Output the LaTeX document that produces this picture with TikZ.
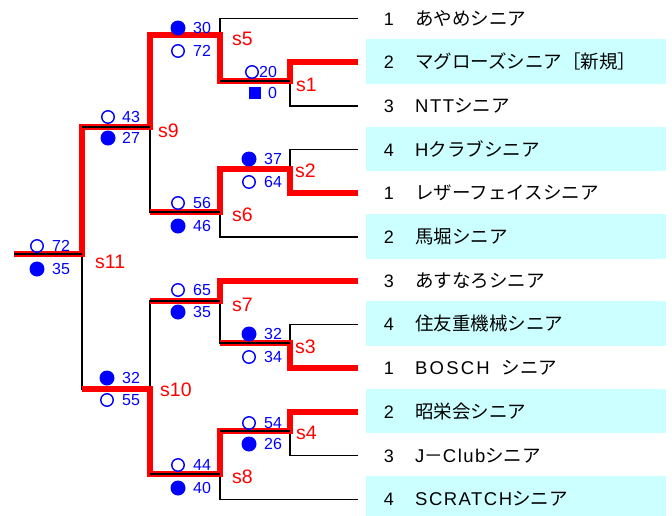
\documentclass[tikz,border=0pt]{standalone}
\usepackage{fontspec}
\setmainfont{Liberation Sans}
\newfontfamily\jp{Noto Sans CJK JP}
\newfontfamily\lw[LetterSpace=8]{Liberation Sans}
\newfontfamily\lww[LetterSpace=12]{Liberation Sans}
\definecolor{bandcol}{HTML}{CCFFFF}
\begin{document}
\begin{tikzpicture}[x=1pt,y=-1pt,
  blk/.style={black, line width=1.3pt},
  redpath/.style={red, line width=6pt, line join=miter},
  win/.style={circle, draw=blue, line width=1.4pt, minimum size=12.5pt, inner sep=0pt},
  loss/.style={circle, fill=blue, minimum size=15pt, inner sep=0pt},
  byesq/.style={rectangle, fill=blue, minimum size=12.5pt, inner sep=0pt},
  score/.style={blue, inner sep=0pt, anchor=base west, font=\fontsize{16}{17}\selectfont},
  mlab/.style={red, inner sep=0pt, anchor=base west, font=\fontsize{19.5}{21}\selectfont},
  teamno/.style={inner sep=0pt, anchor=base, font=\fontsize{18}{20}\selectfont},
  teamname/.style={inner sep=0pt, anchor=base west, font=\fontsize{18.5}{20}\selectfont},
  band/.style={fill=bandcol, draw=none}]
\useasboundingbox (0,0) rectangle (672,515);
\fill[white] (0,0) rectangle (672,515);

% bands
\foreach \r in {2,4,6,8,10,12}{
  \pgfmathsetmacro{\yy}{18.5+(\r-1)*43.7}
  \fill[band] (366,\yy-23) rectangle (666,\yy+21.5);
}

% team end coordinates
\foreach \r in {1,...,12}{
  \coordinate (T\r) at (358,{18.5+(\r-1)*43.7});
}
% junctions
\coordinate (J1) at (290,81);
\coordinate (J2) at (290,169);
\coordinate (J3) at (290,343);
\coordinate (J4) at (290,431);
\coordinate (J5) at (220,35);
\coordinate (J6) at (220,212);
\coordinate (J7) at (220,301);
\coordinate (J8) at (220,474);
\coordinate (J9) at (150,127);
\coordinate (J10) at (150,389);
\coordinate (J11) at (82,254);
\coordinate (L) at (14,254);

% black bracket
\draw[blk] (T2) -| (J1) (T3) -| (J1) (T4) -| (J2) (T5) -| (J2)
  (T8) -| (J3) (T9) -| (J3) (T10) -| (J4) (T11) -| (J4)
  (T1) -| (J5) (J1) -| (J5) (J2) -| (J6) (T6) -| (J6)
  (T7) -| (J7) (J3) -| (J7) (J4) -| (J8) (T12) -| (J8)
  (J5) -| (J9) (J6) -| (J9) (J7) -| (J10) (J8) -| (J10)
  (J9) -| (J11) (J10) -| (J11) (J11) -- (L);

% red winner paths
\draw[redpath] (T2) -| (J1) -| (J5) -| (J9) -| (J11) -- (L);
\draw[redpath] (T5) -| (J2) -| (J6) -- (J9 |- J6);
\draw[redpath] (T7) -| (J7) -- (J10 |- J7);
\draw[redpath] (T9) -| (J3) -- (J7 |- J3);
\draw[redpath] (T10) -| (J4) -| (J8) -| (J10) -- (J11 |- J10);

% black lines visible on top of red
\draw[blk] (J1) -- (J5 |- J1) (J3) -- (J7 |- J3) (J4) -- (J8 |- J4)
  (J6) -- (J9 |- J6) (J7) -- (J10 |- J7) (J8) -- (J10 |- J8)
  (J9) -- (J11 |- J9) (J11) -- (L);

% team numbers and names
\foreach \r/\n in {1/1,2/2,3/3,4/4,5/1,6/2,7/3,8/4,9/1,10/2,11/3,12/4}{
  \node[teamno] (no\r) at (389,{18.5+(\r-1)*43.7+6.5}) {\n};
}
\node[teamname] (nm1) at (415,{18.5+0*43.7+6.5}) {\jp あやめシニア};
\node[teamname] (nm2) at (415,{18.5+1*43.7+6.5}) {\jp マグローズシニア［新規］};
\node[teamname] (nm3) at (415,{18.5+2*43.7+6.5}) {{\lw NTT}{\jp シニア}};
\node[teamname] (nm4) at (415,{18.5+3*43.7+6.5}) {{\lw H}{\jp クラブシニア}};
\node[teamname] (nm5) at (415,{18.5+4*43.7+6.5}) {\jp レザーフェイスシニア};
\node[teamname] (nm6) at (415,{18.5+5*43.7+6.5}) {\jp 馬堀シニア};
\node[teamname] (nm7) at (415,{18.5+6*43.7+6.5}) {\jp あすなろシニア};
\node[teamname] (nm8) at (415,{18.5+7*43.7+6.5}) {\jp 住友重機械シニア};
\node[teamname] (nm9) at (415,{18.5+8*43.7+6.5}) {{\lww BOSCH}\hspace{12pt}{\jp シニア}};
\node[teamname] (nm10) at (415,{18.5+9*43.7+6.5}) {\jp 昭栄会シニア};
\node[teamname] (nm11) at (415,{18.5+10*43.7+6.5}) {{\lw J}{\jp －}{\lw Club}{\jp シニア}};
\node[teamname] (nm12) at (415,{18.5+11*43.7+6.5}) {{\lw SCRATCH}{\jp シニア}};

% scores
% s1
\node[win] (s1a) at (252,72) {};   \node[score] (s1an) at (259,77.8) {20};
\node[byesq] (s1b) at (255,93) {}; \node[score] (s1bn) at (268,98.8) {0};
% s2
\node[loss] (s2a) at (249,159) {}; \node[score] (s2an) at (264,164.8) {37};
\node[win] (s2b) at (249,182) {};  \node[score] (s2bn) at (264,187.8) {64};
% s3
\node[loss] (s3a) at (249,334) {}; \node[score] (s3an) at (264,339.8) {32};
\node[win] (s3b) at (249,357) {};  \node[score] (s3bn) at (264,362.8) {34};
% s4
\node[win] (s4a) at (249,423) {};  \node[score] (s4an) at (264,428.8) {54};
\node[loss] (s4b) at (249,444) {}; \node[score] (s4bn) at (264,449.8) {26};
% s5
\node[loss] (s5a) at (178,28) {};  \node[score] (s5an) at (193,33.8) {30};
\node[win] (s5b) at (178,51) {};   \node[score] (s5bn) at (193,56.8) {72};
% s6
\node[win] (s6a) at (178,203) {};  \node[score] (s6an) at (193,208.8) {56};
\node[loss] (s6b) at (178,226) {}; \node[score] (s6bn) at (193,231.8) {46};
% s7
\node[win] (s7a) at (178,290) {};  \node[score] (s7an) at (193,295.8) {65};
\node[loss] (s7b) at (178,312) {}; \node[score] (s7bn) at (193,317.8) {35};
% s8
\node[win] (s8a) at (178,465) {};  \node[score] (s8an) at (193,470.8) {44};
\node[loss] (s8b) at (178,488) {}; \node[score] (s8bn) at (193,493.8) {40};
% s9
\node[win] (s9a) at (108,117) {};  \node[score] (s9an) at (122,122.8) {43};
\node[loss] (s9b) at (108,138) {}; \node[score] (s9bn) at (122,143.8) {27};
% s10
\node[loss] (s10a) at (107,378) {}; \node[score] (s10an) at (122,383.8) {32};
\node[win] (s10b) at (107,400) {};  \node[score] (s10bn) at (122,405.8) {55};
% s11
\node[win] (s11a) at (37,246) {};  \node[score] (s11an) at (52,251.8) {72};
\node[loss] (s11b) at (37,269) {}; \node[score] (s11bn) at (52,274.8) {35};

% match labels
\node[mlab] (l1) at (296,91.5) {s1};
\node[mlab] (l2) at (295,177.5) {s2};
\node[mlab] (l3) at (295,353.5) {s3};
\node[mlab] (l4) at (296,439.5) {s4};
\node[mlab] (l5) at (232,45.5) {s5};
\node[mlab] (l6) at (232,221.5) {s6};
\node[mlab] (l7) at (232,311.5) {s7};
\node[mlab] (l8) at (232,483.5) {s8};
\node[mlab] (l9) at (158,137.5) {s9};
\node[mlab] (l10) at (160,396.5) {s10};
\node[mlab] (l11) at (95,268.5) {s11};
\end{tikzpicture}
\end{document}
